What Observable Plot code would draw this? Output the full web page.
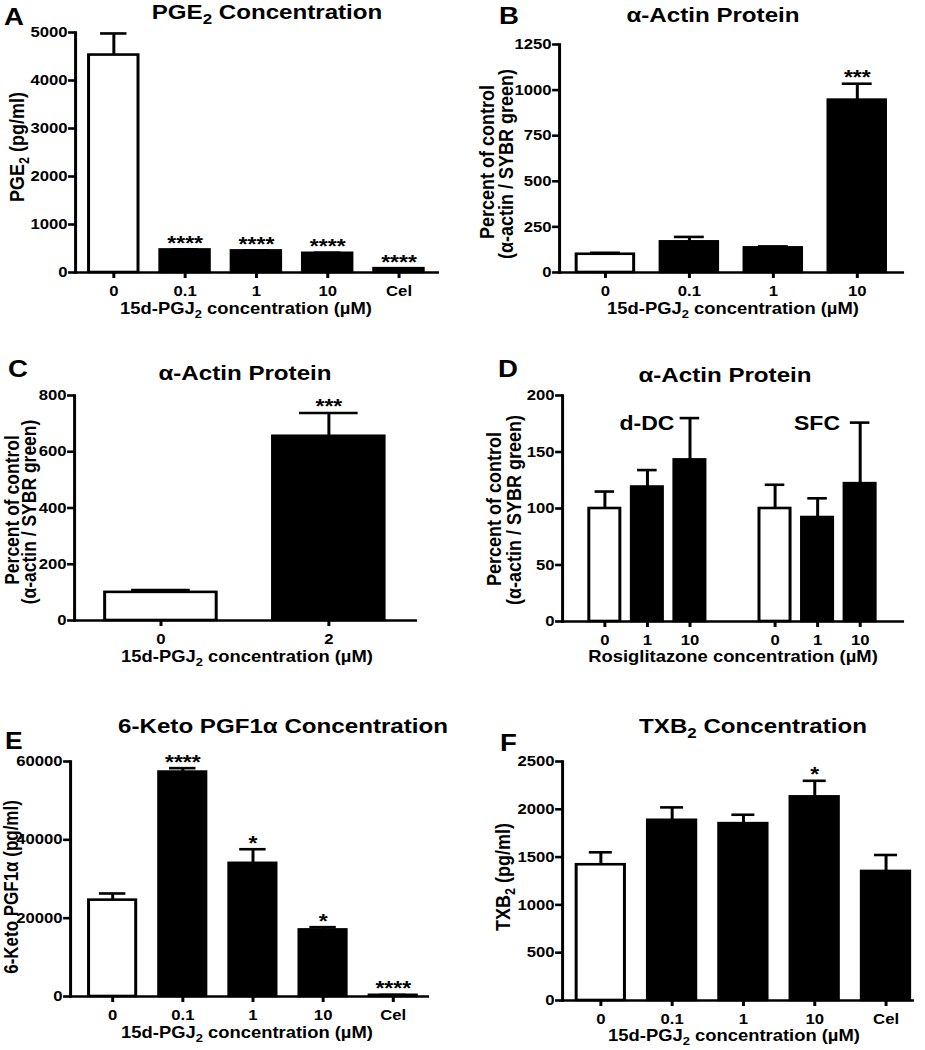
<!DOCTYPE html>
<html><head><meta charset="utf-8">
<script src="https://cdn.jsdelivr.net/npm/d3@7"></script>
<script src="https://cdn.jsdelivr.net/npm/@observablehq/plot@0.6"></script>
<style>
html,body{margin:0;padding:0;background:#fff;}
#wrap{position:relative;width:925px;height:1050px;overflow:hidden;background:#fff;}
#stage{position:absolute;left:0;top:0;width:805px;height:1050px;transform:scaleX(1.15);transform-origin:0 0;}
</style></head><body>
<div id="wrap"><div id="stage"></div></div>
<script>
const K = 1.15; // horizontal stretch of the original figure

// ---------- Panel A : PGE2 concentration
const catsA = ["0", "0.1", "1", "10", "Cel"];
const meanA = [4530, 470, 450, 400, 80];
const errA  = [450, 12, 10, 12, 8];
const starA = ["", "****", "****", "****", "****"];
const ticksA = [0, 1000, 2000, 3000, 4000, 5000];

// ---------- Panel B : alpha-actin protein (15d-PGJ2)
const catsB = ["0", "0.1", "1", "10"];
const meanB = [100, 168, 135, 945];
const errB  = [8, 27, 8, 90];
const starB = ["", "", "", "***"];
const ticksB = [0, 250, 500, 750, 1000, 1250];

// ---------- Panel C : alpha-actin protein (2 uM)
const catsC = ["0", "2"];
const meanC = [100, 655];
const errC  = [8, 83];
const starC = ["", "***"];
const ticksC = [0, 200, 400, 600, 800];

// ---------- Panel D : alpha-actin protein (rosiglitazone)
const groupD = ["d-DC", "d-DC", "d-DC", "SFC", "SFC", "SFC"];
const catsD = ["0", "1", "10", "0", "1", "10"];
const meanD = [100, 119, 143, 100, 92, 122];
const errD  = [15, 15, 37, 21, 17, 54];
const starD = ["", "", "", "", "", ""];
const ticksD = [0, 50, 100, 150, 200];

// ---------- Panel E : 6-Keto PGF1a concentration
const catsE = ["0", "0.1", "1", "10", "Cel"];
const meanE = [24600, 57300, 34000, 17000, 300];
const errE  = [1700, 1000, 3600, 700, 100];
const starE = ["", "****", "*", "*", "****"];
const ticksE = [0, 20000, 40000, 60000];

// ---------- Panel F : TXB2 concentration
const catsF = ["0", "0.1", "1", "10", "Cel"];
const meanF = [1420, 1885, 1850, 2130, 1350];
const errF  = [130, 135, 93, 168, 172];
const starF = ["", "", "", "*", ""];
const ticksF = [0, 500, 1000, 1500, 2000, 2500];

const FONT = "'Liberation Sans', Arial, Helvetica, sans-serif";
const SW = 2.6;
const stage = document.getElementById("stage");

function panel(p) {
  const data = p.cats.map((c, i) => ({
    key: p.groups ? p.groups[i] + "|" + c : c,
    label: c, mean: p.means[i], err: p.errs[i], star: p.stars[i], ctrl: c === "0"
  }));
  const keys = data.map(d => d.key);
  let domain = keys;
  if (p.groups) { domain = keys.slice(0, 3).concat(["gap"], keys.slice(3)); }
  const labelOf = new Map(data.map(d => [d.key, d.label]));
  const mt = 30, mb = 50, mr = 6;
  const ml = (p.axL - p.left) / K;
  const w = (p.axR - p.left) / K + mr;
  const h = (p.y0 - p.yTop) + mt + mb;
  const chart = Plot.plot({
    width: w, height: h,
    marginLeft: ml, marginRight: mr, marginTop: mt, marginBottom: mb,
    style: {fontFamily: FONT, fontSize: "14.5px", fontWeight: "bold", background: "transparent", overflow: "visible", color: "#000"},
    x: {type: "band", domain, paddingInner: p.pi, paddingOuter: p.po, align: p.align ?? 0.5},
    y: {domain: [0, p.yMax], nice: false},
    marks: [
      Plot.barY(data.filter(d => d.ctrl), {x: "key", y: "mean", fill: "white", stroke: "black", strokeWidth: SW}),
      Plot.barY(data.filter(d => !d.ctrl), {x: "key", y: "mean", fill: "black", stroke: "black", strokeWidth: SW}),
      Plot.ruleX(data, {x: "key", y1: "mean", y2: d => d.mean + d.err, stroke: "black", strokeWidth: SW}),
      Plot.tickY(data, {x: "key", y: d => d.mean + d.err, stroke: "black", strokeWidth: SW, inset: p.cap}),
      Plot.text(data.filter(d => d.star), {x: "key", y: d => d.mean + d.err, text: "star", dy: -6, fontSize: 20, fontWeight: "bold", lineAnchor: "middle"}),
      Plot.axisY({ticks: p.ticks, tickSize: 6, tickPadding: 1, tickFormat: d => String(d), label: null, strokeWidth: SW, fontSize: 14.5}),
      Plot.axisX({ticks: keys, tickSize: 6, tickPadding: 7, tickFormat: k => labelOf.get(k), label: null, strokeWidth: SW, fontSize: 14.5}),
      Plot.frame({anchor: "left", strokeWidth: SW}),
      Plot.frame({anchor: "bottom", strokeWidth: SW})
    ]
  });
  chart.style.position = "absolute";
  chart.style.left = (p.left / K) + "px";
  chart.style.top = (p.yTop - mt) + "px";
  chart.style.maxWidth = "none";
  stage.appendChild(chart);
}

panel({cats: catsA, means: meanA, errs: errA, stars: starA, ticks: ticksA, yMax: 5000,
  left: 0, axL: 75, axR: 437, yTop: 32, y0: 272, pi: 0.3, po: 0.175, cap: 10});
panel({cats: catsB, means: meanB, errs: errB, stars: starB, ticks: ticksB, yMax: 1250,
  left: 460, axL: 559, axR: 902, yTop: 44, y0: 272, pi: 0.32, po: 0.178, cap: 12});
panel({cats: catsC, means: meanC, errs: errC, stars: starC, ticks: ticksC, yMax: 800,
  left: 0, axL: 74, axR: 415, yTop: 395, y0: 620, pi: 0.335, po: 0.18, cap: 23});
panel({cats: catsD, groups: groupD, means: meanD, errs: errD, stars: starD, ticks: ticksD, yMax: 200,
  left: 460, axL: 562, axR: 902, yTop: 395, y0: 621, pi: 0.264, po: 0.552, cap: 5});
panel({cats: catsE, means: meanE, errs: errE, stars: starE, ticks: ticksE, yMax: 60000,
  left: 0, axL: 70, axR: 427, yTop: 761, y0: 996, pi: 0.32, po: 0.19, align: 0.63, cap: 9});
panel({cats: catsF, means: meanF, errs: errF, stars: starF, ticks: ticksF, yMax: 2500,
  left: 460, axL: 562, axR: 912, yTop: 761, y0: 1000, pi: 0.32, po: 0.09, align: 0.89, cap: 11});

// ---------- titles, panel letters, axis titles (text overlay)
const SUB = s => [s];
const xTitle15d = ["15d-PGJ", SUB("2"), " concentration (\u00b5M)"];
const labels = [
  {parts: ["A"], x: 4, y: 25, size: 24, anchor: "start"},
  {parts: ["PGE", SUB("2"), " Concentration"], x: 267, y: 19, size: 21},
  {parts: ["PGE", SUB("2"), " (pg/ml)"], x: 24, y: 147, size: 18, rotate: true},
  {parts: xTitle15d, x: 246, y: 314, size: 16},

  {parts: ["B"], x: 499, y: 24, size: 24, anchor: "start"},
  {parts: ["\u03b1-Actin Protein"], x: 713, y: 22, size: 21},
  {parts: ["Percent of control"], x: 494, y: 162, size: 18, rotate: true},
  {parts: ["(\u03b1-actin / SYBR green)"], x: 513, y: 164, size: 18, rotate: true},
  {parts: xTitle15d, x: 733, y: 314, size: 16},

  {parts: ["C"], x: 8, y: 377, size: 24, anchor: "start"},
  {parts: ["\u03b1-Actin Protein"], x: 245, y: 380, size: 21},
  {parts: ["Percent of control"], x: 19, y: 510, size: 17.5, rotate: true},
  {parts: ["(\u03b1-actin / SYBR green)"], x: 36, y: 512, size: 17.5, rotate: true},
  {parts: xTitle15d, x: 247, y: 662, size: 16},

  {parts: ["D"], x: 498, y: 377, size: 24, anchor: "start"},
  {parts: ["\u03b1-Actin Protein"], x: 725, y: 382, size: 21},
  {parts: ["Percent of control"], x: 501, y: 509, size: 18, rotate: true},
  {parts: ["(\u03b1-actin / SYBR green)"], x: 521, y: 510, size: 18, rotate: true},
  {parts: ["Rosiglitazone concentration (\u00b5M)"], x: 733, y: 662, size: 16},
  {parts: ["d-DC"], x: 647, y: 430, size: 20},
  {parts: ["SFC"], x: 817, y: 430, size: 20},

  {parts: ["E"], x: 5, y: 749, size: 23, anchor: "start"},
  {parts: ["6-Keto PGF1\u03b1 Concentration"], x: 283, y: 733, size: 21},
  {parts: ["6-Keto PGF1\u03b1 (pg/ml)"], x: 17.5, y: 887, size: 17, rotate: true},
  {parts: xTitle15d, x: 247, y: 1038, size: 16},

  {parts: ["F"], x: 500, y: 751, size: 24, anchor: "start"},
  {parts: ["TXB", SUB("2"), " Concentration"], x: 753, y: 733, size: 21},
  {parts: ["TXB", SUB("2"), " (pg/ml)"], x: 510, y: 877, size: 18, rotate: true},
  {parts: xTitle15d, x: 734, y: 1041, size: 16}
];

const overlay = d3.select(stage).append("svg")
  .attr("width", 805).attr("height", 1050)
  .style("position", "absolute").style("left", "0px").style("top", "0px")
  .style("overflow", "visible").style("pointer-events", "none")
  .attr("font-family", FONT).attr("font-weight", "bold").attr("fill", "#000");

labels.forEach(l => {
  const tx = l.x / K;
  const t = overlay.append("text")
    .attr("font-size", l.size)
    .attr("text-anchor", l.anchor || "middle")
    .attr("transform", l.rotate ? `translate(${tx},${l.y}) rotate(-90)` : `translate(${tx},${l.y})`);
  let pending = 0;
  l.parts.forEach(part => {
    if (Array.isArray(part)) {
      const shift = l.size * 0.25;
      t.append("tspan").attr("font-size", l.size * 0.7).attr("dy", shift + pending).text(part[0]);
      pending = -shift;
    } else {
      const s = t.append("tspan").text(part);
      if (pending) s.attr("dy", pending);
      pending = 0;
    }
  });
});
</script>
</body></html>
